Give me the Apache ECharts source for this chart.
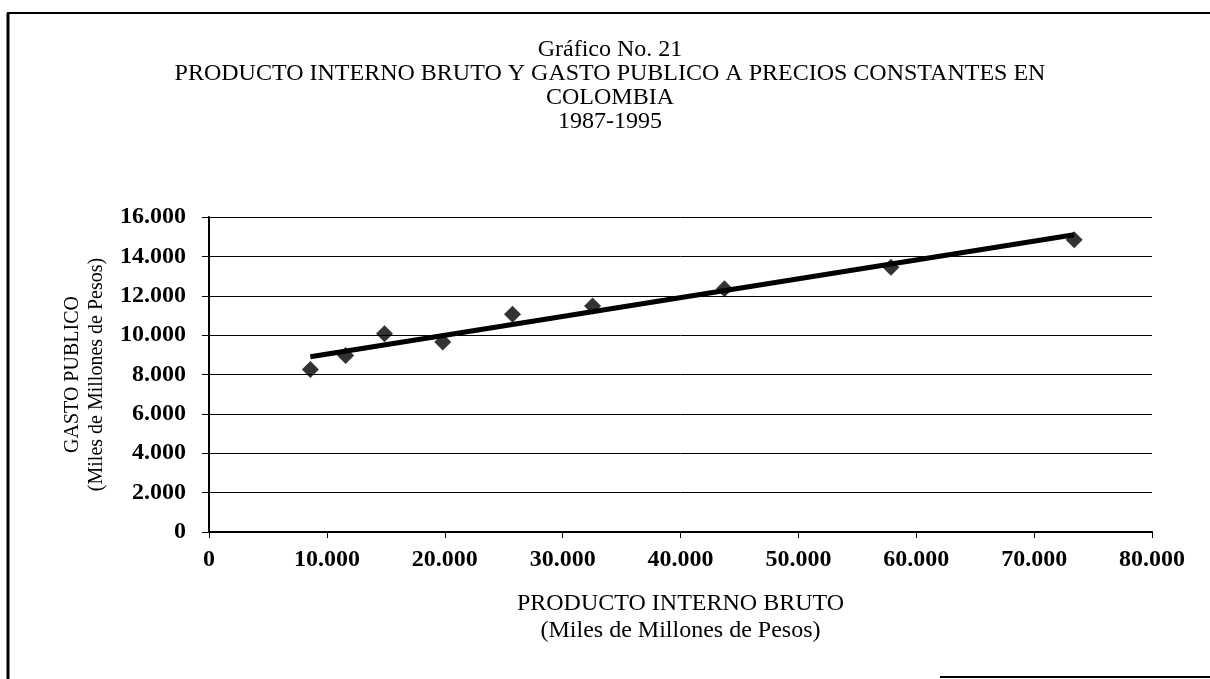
<!DOCTYPE html>
<html>
<head>
<meta charset="utf-8">
<script src="https://cdn.jsdelivr.net/npm/echarts@6/dist/echarts.min.js"></script>
<style>
  html, body { margin: 0; padding: 0; background: #fff; }
  #chart { width: 1210px; height: 679px; }
</style>
</head>
<body>
<div id="chart"></div>
<script>
// PIB (x) y gasto publico (y), miles de millones de pesos, 1987-1995
let pib = [8600, 11590, 14890, 19830, 25750, 32540, 43730, 57850, 73400]
let gasto = [8250, 8970, 10070, 9650, 11060, 11480, 12350, 13450, 14850]
// extremos de la linea de tendencia
let tendX = [8600, 73400]
let tendY = [8900, 15100]

let puntos = pib.map((v, i) => [v, gasto[i]])
let tendencia = tendX.map((v, i) => [v, tendY[i]])

// formato con punto de miles: 16000 -> 16.000
function miles(v) {
    return String(v).replace(/\B(?=(\d{3})+(?!\d))/g, '.')
}

let fuente = 'Liberation Serif'

let myChart = echarts.init(document.getElementById('chart'), null, {
    renderer: 'canvas'
})

myChart.setOption({
    animation: false,
    backgroundColor: '#fff',
    title: {
        text: 'Gráfico No. 21\nPRODUCTO INTERNO BRUTO Y GASTO PUBLICO A PRECIOS CONSTANTES EN\nCOLOMBIA\n1987-1995',
        left: 605,
        top: 33,
        textAlign: 'center',
        textStyle: {
            fontFamily: fuente,
            fontSize: 24,
            fontWeight: 'normal',
            color: '#000',
            lineHeight: 24
        }
    },
    graphic: [
        { type: 'line', shape: { x1: 7, y1: 13, x2: 1210, y2: 13 }, style: { stroke: '#000', lineWidth: 2 } },
        { type: 'line', shape: { x1: 8, y1: 13, x2: 8, y2: 679 }, style: { stroke: '#000', lineWidth: 3 } },
        { type: 'line', shape: { x1: 940, y1: 677, x2: 1210, y2: 677 }, style: { stroke: '#000', lineWidth: 2 } }
    ],
    grid: {
        left: 209,
        right: 58,
        top: 217,
        bottom: 147
    },
    xAxis: [
        {
            type: 'value',
            min: 0,
            max: 80000,
            interval: 10000,
            name: 'PRODUCTO INTERNO BRUTO\n(Miles de Millones de Pesos)',
            nameLocation: 'middle',
            nameGap: 58,
            nameTextStyle: {
                fontFamily: fuente,
                fontSize: 24,
                color: '#000',
                lineHeight: 27
            },
            axisLine: { lineStyle: { color: '#000', width: 2 } },
            axisTick: { show: true, length: 6, lineStyle: { color: '#000', width: 1 } },
            axisLabel: {
                margin: 16,
                fontFamily: fuente,
                fontSize: 24,
                fontWeight: 'bold',
                color: '#000',
                formatter: miles
            },
            splitLine: { show: false }
        },
        {
            type: 'value',
            position: 'top',
            min: 0,
            max: 80000,
            axisLine: { show: true, lineStyle: { color: '#000', width: 1.5, type: 'dotted' } },
            axisTick: { show: false },
            axisLabel: { show: false },
            splitLine: { show: false }
        }
    ],
    yAxis: [
        {
            type: 'value',
            min: 0,
            max: 16000,
            interval: 2000,
            name: 'GASTO PUBLICO\n(Miles de Millones de Pesos)',
            nameLocation: 'middle',
            nameRotate: 90,
            nameGap: 100,
            nameTextStyle: {
                fontFamily: fuente,
                fontSize: 20,
                color: '#000',
                lineHeight: 24
            },
            axisLine: { show: true, lineStyle: { color: '#000', width: 2 } },
            axisTick: { show: true, length: 7, lineStyle: { color: '#000', width: 1 } },
            axisLabel: {
                margin: 23,
                fontFamily: fuente,
                fontSize: 24,
                fontWeight: 'bold',
                color: '#000',
                formatter: miles
            },
            splitLine: { show: true, lineStyle: { color: '#000', width: 1 } }
        },
        {
            type: 'value',
            position: 'right',
            min: 0,
            max: 16000,
            axisLine: { show: true, lineStyle: { color: '#000', width: 1.5, type: 'dotted' } },
            axisTick: { show: false },
            axisLabel: { show: false },
            splitLine: { show: false }
        }
    ],
    series: [
        {
            name: 'Tendencia',
            type: 'line',
            data: tendencia,
            symbol: 'none',
            lineStyle: { color: '#000', width: 5 },
            z: 2
        },
        {
            name: 'Gasto publico',
            type: 'scatter',
            data: puntos,
            symbol: 'diamond',
            symbolSize: [17, 17],
            itemStyle: { color: '#000' },
            z: 3
        }
    ]
})
</script>
</body>
</html>
